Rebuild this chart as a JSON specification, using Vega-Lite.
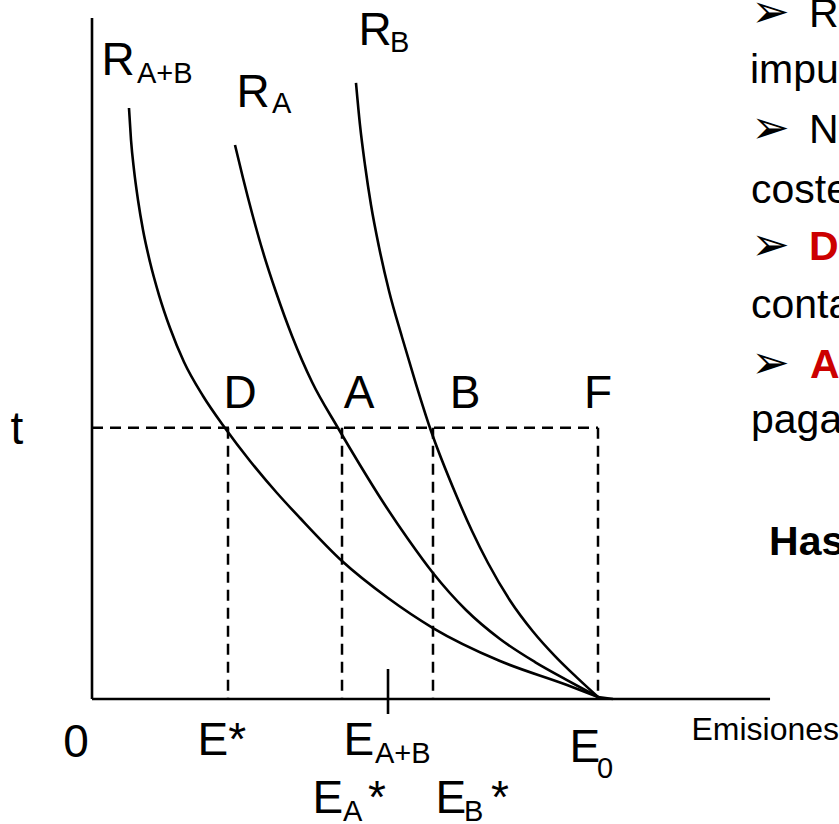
{
  "$schema": "https://vega.github.io/schema/vega-lite/v6.json",
  "width": 839,
  "height": 824,
  "padding": 0,
  "autosize": {"type": "none"},
  "background": "white",
  "config": {"view": {"stroke": null}, "text": {"font": "Liberation Sans"}},
  "datasets": {
    "curves": [
      {"curve": "RAB", "x": 7.31, "y": 116.80},
      {"curve": "RAB", "x": 7.71, "y": 110.47},
      {"curve": "RAB", "x": 8.30, "y": 104.55},
      {"curve": "RAB", "x": 9.09, "y": 98.62},
      {"curve": "RAB", "x": 10.08, "y": 92.69},
      {"curve": "RAB", "x": 11.46, "y": 86.36},
      {"curve": "RAB", "x": 13.24, "y": 79.84},
      {"curve": "RAB", "x": 15.42, "y": 73.32},
      {"curve": "RAB", "x": 18.18, "y": 66.60},
      {"curve": "RAB", "x": 21.94, "y": 59.88},
      {"curve": "RAB", "x": 26.28, "y": 53.56},
      {"curve": "RAB", "x": 31.23, "y": 47.04},
      {"curve": "RAB", "x": 36.56, "y": 40.71},
      {"curve": "RAB", "x": 41.11, "y": 35.77},
      {"curve": "RAB", "x": 49.41, "y": 27.27},
      {"curve": "RAB", "x": 58.50, "y": 19.96},
      {"curve": "RAB", "x": 67.39, "y": 14.03},
      {"curve": "RAB", "x": 80.63, "y": 7.51},
      {"curve": "RAB", "x": 93.87, "y": 2.77},
      {"curve": "RAB", "x": 100.0, "y": 0.40},
      {"curve": "RA", "x": 28.26, "y": 109.49},
      {"curve": "RA", "x": 29.84, "y": 102.96},
      {"curve": "RA", "x": 31.62, "y": 96.05},
      {"curve": "RA", "x": 33.79, "y": 88.34},
      {"curve": "RA", "x": 36.36, "y": 80.43},
      {"curve": "RA", "x": 39.53, "y": 71.74},
      {"curve": "RA", "x": 43.48, "y": 62.65},
      {"curve": "RA", "x": 48.62, "y": 53.56},
      {"curve": "RA", "x": 52.96, "y": 46.25},
      {"curve": "RA", "x": 57.51, "y": 38.93},
      {"curve": "RA", "x": 62.45, "y": 31.62},
      {"curve": "RA", "x": 67.39, "y": 24.90},
      {"curve": "RA", "x": 73.91, "y": 17.59},
      {"curve": "RA", "x": 80.63, "y": 11.86},
      {"curve": "RA", "x": 87.55, "y": 7.31},
      {"curve": "RA", "x": 93.87, "y": 3.75},
      {"curve": "RA", "x": 100.0, "y": 0.40},
      {"curve": "RB", "x": 52.17, "y": 121.74},
      {"curve": "RB", "x": 52.96, "y": 113.44},
      {"curve": "RB", "x": 53.95, "y": 105.53},
      {"curve": "RB", "x": 55.14, "y": 97.63},
      {"curve": "RB", "x": 56.72, "y": 89.33},
      {"curve": "RB", "x": 58.70, "y": 80.63},
      {"curve": "RB", "x": 61.26, "y": 71.54},
      {"curve": "RB", "x": 64.03, "y": 62.25},
      {"curve": "RB", "x": 66.80, "y": 53.56},
      {"curve": "RB", "x": 72.13, "y": 39.92},
      {"curve": "RB", "x": 75.10, "y": 33.20},
      {"curve": "RB", "x": 78.26, "y": 26.88},
      {"curve": "RB", "x": 82.61, "y": 19.48},
      {"curve": "RB", "x": 87.15, "y": 13.35},
      {"curve": "RB", "x": 91.50, "y": 8.48},
      {"curve": "RB", "x": 95.85, "y": 4.22},
      {"curve": "RB", "x": 100.0, "y": 0.40}
    ],
    "dashes": [
      {"x": 0, "y": 53.6, "x2": 100, "y2": 53.6},
      {"x": 26.88, "y": 53.6, "x2": 26.88, "y2": 0},
      {"x": 49.41, "y": 53.6, "x2": 49.41, "y2": 0},
      {"x": 67.39, "y": 53.6, "x2": 67.39, "y2": 0},
      {"x": 100, "y": 53.6, "x2": 100, "y2": 0}
    ],
    "axes": [
      {"x": 0, "y": 0, "x2": 0, "y2": 134.6},
      {"x": 0, "y": 0, "x2": 134.0, "y2": 0},
      {"x": 58.5, "y": 5.93, "x2": 58.5, "y2": -2.96},
      {"x": 100.0, "y": 0.40, "x2": 102.96, "y2": 0}
    ],
    "bigLeft": [
      {"x": 1.88, "y": 123.3, "label": "R"},
      {"x": 28.56, "y": 117.0, "label": "R"},
      {"x": 52.67, "y": 129.2, "label": "R"},
      {"x": 20.85, "y": -11.07, "label": "E*"},
      {"x": 49.70, "y": -11.07, "label": "E"},
      {"x": 94.37, "y": -12.45, "label": "E"},
      {"x": 43.58, "y": -22.53, "label": "E"},
      {"x": 54.55, "y": -22.53, "label": "*"},
      {"x": 67.89, "y": -22.53, "label": "E"},
      {"x": 78.85, "y": -22.53, "label": "*"}
    ],
    "bigCenter": [
      {"x": 29.25, "y": 57.51, "label": "D"},
      {"x": 52.77, "y": 57.51, "label": "A"},
      {"x": 73.72, "y": 57.51, "label": "B"},
      {"x": 100.0, "y": 57.51, "label": "F"},
      {"x": -14.82, "y": 50.4, "label": "t"},
      {"x": -3.16, "y": -11.46, "label": "0"}
    ],
    "subs": [
      {"x": 8.89, "y": 121.7, "label": "A+B"},
      {"x": 35.57, "y": 115.8, "label": "A"},
      {"x": 58.89, "y": 127.9, "label": "B"},
      {"x": 55.93, "y": -12.65, "label": "A+B"},
      {"x": 99.80, "y": -15.61, "label": "0"},
      {"x": 49.60, "y": -24.2, "label": "A"},
      {"x": 73.52, "y": -24.2, "label": "B"}
    ],
    "axisTitle": [
      {"x": 118.48, "y": -8.10, "label": "Emisiones"}
    ],
    "bullets": [
      {"x": 130.3, "y": 132.8, "label": "➢"},
      {"x": 130.3, "y": 109.9, "label": "➢"},
      {"x": 130.3, "y": 86.76, "label": "➢"},
      {"x": 130.3, "y": 63.44, "label": "➢"}
    ],
    "bodyText": [
      {"x": 141.70, "y": 132.8, "label": "R"},
      {"x": 130.04, "y": 121.7, "label": "impu"},
      {"x": 141.70, "y": 109.9, "label": "N"},
      {"x": 130.24, "y": 98.0, "label": "coste"},
      {"x": 130.24, "y": 75.3, "label": "conta"},
      {"x": 130.24, "y": 52.57, "label": "paga"}
    ],
    "redText": [
      {"x": 141.70, "y": 86.76, "label": "D"},
      {"x": 141.90, "y": 63.44, "label": "A"}
    ],
    "boldText": [
      {"x": 133.80, "y": 28.46, "label": "Has"}
    ]
  },
  "encoding": {
    "x": {"field": "x", "type": "quantitative", "axis": null, "scale": {"domain": [-18.182, 147.628], "nice": false, "zero": false}},
    "y": {"field": "y", "type": "quantitative", "axis": null, "scale": {"domain": [-24.70, 138.14], "nice": false, "zero": false}}
  },
  "layer": [
    {
      "data": {"name": "axes"},
      "mark": {"type": "rule", "color": "black", "strokeWidth": 2.6},
      "encoding": {"x2": {"field": "x2"}, "y2": {"field": "y2"}}
    },
    {
      "data": {"name": "dashes"},
      "mark": {"type": "rule", "color": "black", "strokeWidth": 2.5, "strokeDash": [11, 7]},
      "encoding": {"x2": {"field": "x2"}, "y2": {"field": "y2"}}
    },
    {
      "data": {"name": "curves"},
      "mark": {"type": "line", "color": "black", "strokeWidth": 2.6, "interpolate": "monotone"},
      "encoding": {"detail": {"field": "curve", "type": "nominal"}}
    },
    {
      "data": {"name": "bigLeft"},
      "mark": {"type": "text", "fontSize": 46, "align": "left", "baseline": "alphabetic", "color": "black"},
      "encoding": {"text": {"field": "label"}}
    },
    {
      "data": {"name": "bigCenter"},
      "mark": {"type": "text", "fontSize": 46, "align": "center", "baseline": "alphabetic", "color": "black"},
      "encoding": {"text": {"field": "label"}}
    },
    {
      "data": {"name": "subs"},
      "mark": {"type": "text", "fontSize": 29, "align": "left", "baseline": "alphabetic", "color": "black"},
      "encoding": {"text": {"field": "label"}}
    },
    {
      "data": {"name": "axisTitle"},
      "mark": {"type": "text", "fontSize": 32, "align": "left", "baseline": "alphabetic", "color": "black"},
      "encoding": {"text": {"field": "label"}}
    },
    {
      "data": {"name": "bullets"},
      "mark": {"type": "text", "fontSize": 46, "font": "DejaVu Sans", "align": "left", "baseline": "alphabetic", "color": "black"},
      "encoding": {"text": {"field": "label"}}
    },
    {
      "data": {"name": "bodyText"},
      "mark": {"type": "text", "fontSize": 41, "align": "left", "baseline": "alphabetic", "color": "black"},
      "encoding": {"text": {"field": "label"}}
    },
    {
      "data": {"name": "redText"},
      "mark": {"type": "text", "fontSize": 41, "fontWeight": "bold", "align": "left", "baseline": "alphabetic", "color": "#CC0000"},
      "encoding": {"text": {"field": "label"}}
    },
    {
      "data": {"name": "boldText"},
      "mark": {"type": "text", "fontSize": 41, "fontWeight": "bold", "align": "left", "baseline": "alphabetic", "color": "black"},
      "encoding": {"text": {"field": "label"}}
    }
  ]
}
